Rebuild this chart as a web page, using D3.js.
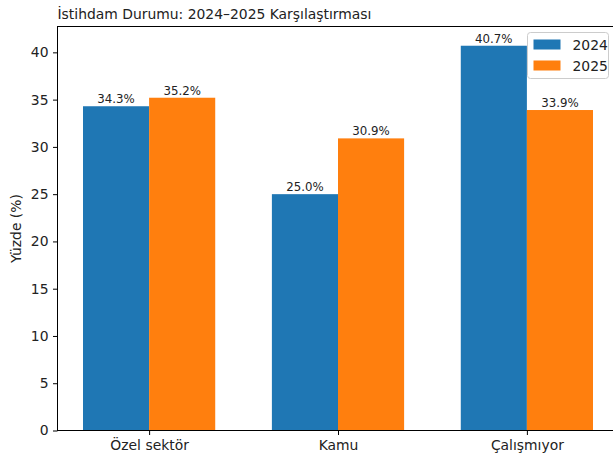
<!DOCTYPE html>
<html>
<head>
<meta charset="utf-8">
<script src="https://cdn.jsdelivr.net/npm/d3@7"></script>
<style>
  body { margin: 0; background: #fff; }
  svg { display: block; font-family: "DejaVu Sans", sans-serif; }
</style>
</head>
<body>
<svg id="chart" width="613" height="459"></svg>
<script>
// data
const categories = ["Özel sektör", "Kamu", "Çalışmıyor"];
const years = ["2024", "2025"];
const values2024 = [34.3, 25.0, 40.7];
const values2025 = [35.2, 30.9, 33.9];
const colors = ["#1f77b4", "#ff7f0e"];
const yTicks = [0, 5, 10, 15, 20, 25, 30, 35, 40];

const svg = d3.select("#chart");
const mLeft = 57.5, mRight = 618.5, mTop = 26.5, mBottom = 430.5;
const barW = 0.35;
const fs = 13.9;

// x in category index units, matplotlib-like margins
const x = d3.scaleLinear().domain([-0.485, 2.485]).range([mLeft, mRight]);
const y = d3.scaleLinear().domain([0, 42.735]).range([mBottom, mTop]);

const series = [values2024, values2025];

series.forEach((vals, s) => {
  const off = s === 0 ? -barW : 0;
  svg.append("g").selectAll("rect")
    .data(vals)
    .enter().append("rect")
      .attr("x", (d, i) => x(i + off))
      .attr("width", (d, i) => x(i + off + barW) - x(i + off))
      .attr("y", d => y(d))
      .attr("height", d => y(0) - y(d))
      .attr("fill", colors[s]);

  svg.append("g").selectAll("text")
    .data(vals)
    .enter().append("text")
      .attr("x", (d, i) => x(i + off + barW / 2))
      .attr("y", d => y(d) - 3)
      .attr("text-anchor", "middle")
      .attr("font-size", 11.8)
      .attr("fill", "#222")
      .text(d => d.toFixed(1) + "%");
});

// y axis
const yAxis = svg.append("g")
  .attr("transform", `translate(${mLeft},0)`)
  .call(d3.axisLeft(y).tickValues(yTicks).tickSize(4.5).tickPadding(4.5));
yAxis.select(".domain").remove();
yAxis.selectAll("text").attr("font-size", fs).attr("fill", "#222").attr("font-family", "DejaVu Sans");
yAxis.selectAll("line").attr("stroke", "#000");

// x axis
const xAxis = svg.append("g")
  .attr("transform", `translate(0,${mBottom})`)
  .call(d3.axisBottom(x).tickValues([0, 1, 2]).tickFormat(i => categories[i]).tickSize(4.5).tickPadding(5.5));
xAxis.select(".domain").remove();
xAxis.selectAll("text").attr("font-size", fs).attr("fill", "#222").attr("font-family", "DejaVu Sans");
xAxis.selectAll("line").attr("stroke", "#000");

// spines
svg.append("rect")
  .attr("x", mLeft).attr("y", mTop)
  .attr("width", mRight - mLeft).attr("height", mBottom - mTop)
  .attr("fill", "none").attr("stroke", "#000").attr("stroke-width", 1);

// title
svg.append("text")
  .attr("x", mLeft).attr("y", mTop - 8)
  .attr("font-size", fs).attr("fill", "#222")
  .text("İstihdam Durumu: 2024–2025 Karşılaştırması");

// y label
svg.append("text")
  .attr("transform", `translate(21,${(mTop + mBottom) / 2}) rotate(-90)`)
  .attr("text-anchor", "middle")
  .attr("font-size", fs).attr("fill", "#222")
  .text("Yüzde (%)");

// legend
const lg = svg.append("g").attr("transform", "translate(527.5,32.5)");
lg.append("rect")
  .attr("width", 81).attr("height", 46).attr("rx", 3)
  .attr("fill", "#fff").attr("fill-opacity", 0.8)
  .attr("stroke", "#ccc");
years.forEach((yr, k) => {
  lg.append("rect")
    .attr("x", 6).attr("y", 7 + k * 21)
    .attr("width", 27).attr("height", 10)
    .attr("fill", colors[k]);
  lg.append("text")
    .attr("x", 45).attr("y", 17 + k * 21)
    .attr("font-size", fs).attr("fill", "#222")
    .text(yr);
});
</script>
</body>
</html>
